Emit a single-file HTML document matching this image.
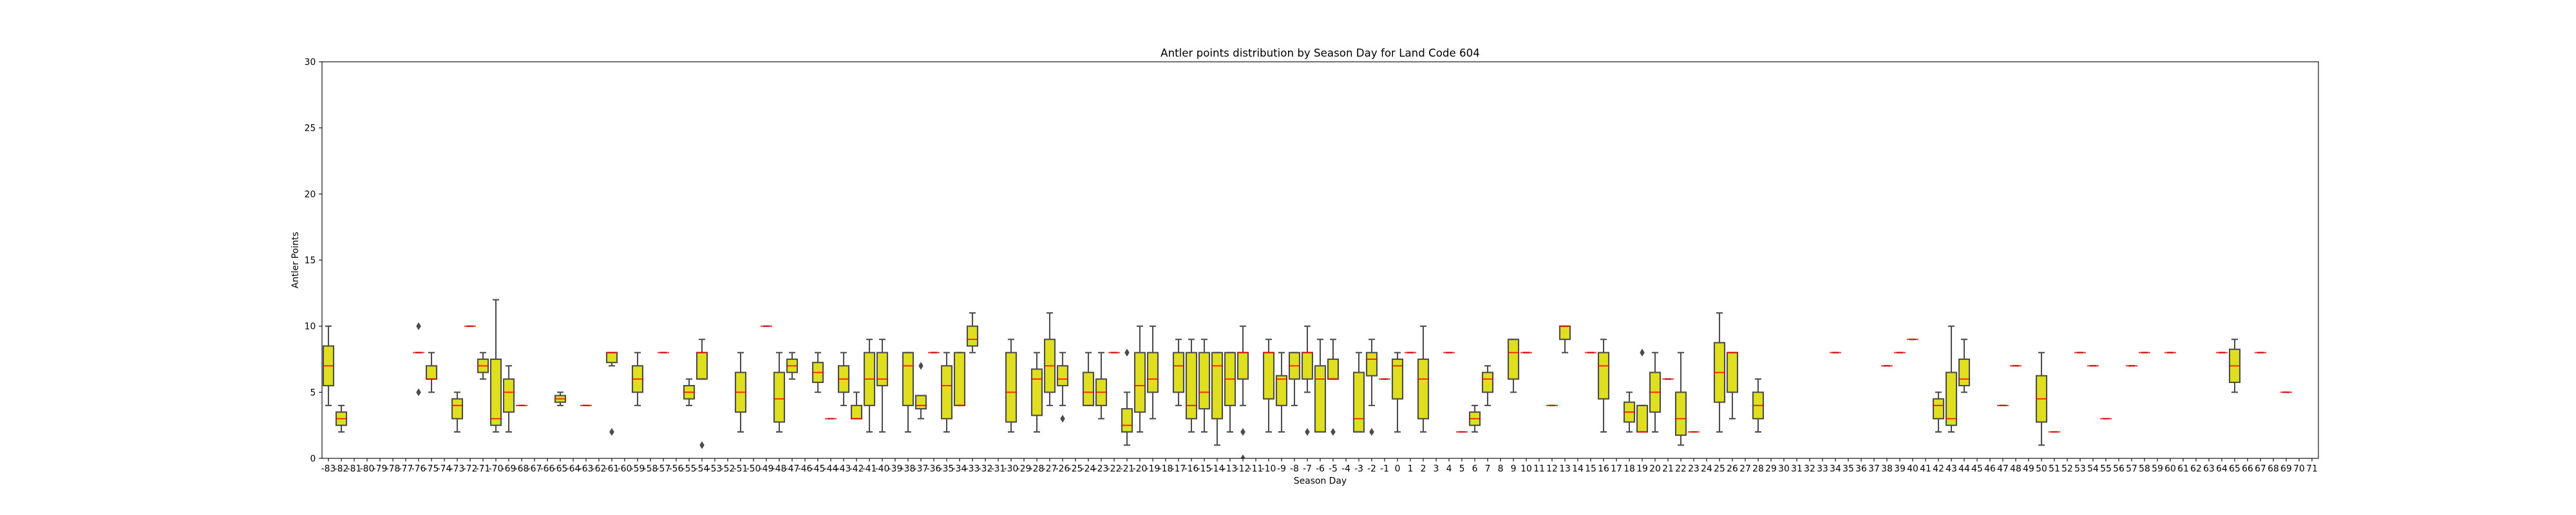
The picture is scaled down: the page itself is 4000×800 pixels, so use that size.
<!DOCTYPE html>
<html>
<head>
<meta charset="utf-8">
<title>Antler points distribution by Season Day for Land Code 604</title>
<style>
html,body{margin:0;padding:0;background:#fff;width:4000px;height:800px;overflow:hidden}
svg{display:block}
text{font-family:"DejaVu Sans","Liberation Sans",sans-serif;fill:#000}
</style>
</head>
<body>
<svg id="chart" xmlns="http://www.w3.org/2000/svg" width="4000" height="800" viewBox="0 0 4000 800">
  <defs><clipPath id="plot-clip"><rect x="500" y="96" width="3100" height="616"/></clipPath></defs>
  <rect x="0" y="0" width="4000" height="800" fill="#fff"/>
  <g id="marks" clip-path="url(#plot-clip)"></g>
  <g id="xticks"></g>
  <g id="yticks"></g>
  <rect x="500" y="96" width="3100" height="616" fill="none" stroke="#000" stroke-width="1.1"/>
  <text x="2050" y="88" font-size="16.67" text-anchor="middle">Antler points distribution by Season Day for Land Code 604</text>
  <text x="2050" y="751.5" font-size="13.89" text-anchor="middle">Season Day</text>
  <text transform="translate(463,404) rotate(-90)" font-size="13.89" text-anchor="middle">Antler Points</text>
</svg>
<script>
const categories = [-83,-82,-81,-80,-79,-78,-77,-76,-75,-74,-73,-72,-71,-70,-69,-68,-67,-66,-65,-64,-63,-62,-61,-60,-59,-58,-57,-56,-55,-54,-53,-52,-51,-50,-49,-48,-47,-46,-45,-44,-43,-42,-41,-40,-39,-38,-37,-36,-35,-34,-33,-32,-31,-30,-29,-28,-27,-26,-25,-24,-23,-22,-21,-20,-19,-18,-17,-16,-15,-14,-13,-12,-11,-10,-9,-8,-7,-6,-5,-4,-3,-2,-1,0,1,2,3,4,5,6,7,8,9,10,11,12,13,14,15,16,17,18,19,20,21,22,23,24,25,26,27,28,29,30,31,32,33,34,35,36,37,38,39,40,41,42,43,44,45,46,47,48,49,50,51,52,53,54,55,56,57,58,59,60,61,62,63,64,65,66,67,68,69,70,71];
const yTickLabels = [0,5,10,15,20,25,30];

const boxDays = [-83,-82,-76,-75,-73,-72,-71,-70,-69,-68,-65,-63,-61,-59,-57,-55,-54,-51,-49,-48,-47,-45,-44,-43,-42,-41,-40,-38,-37,-36,-35,-34,-33,-30,-28,-27,-26,-24,-23,-22,-21,-20,-19,-17,-16,-15,-14,-13,-12,-10,-9,-8,-7,-6,-5,-3,-2,-1,0,1,2,4,5,6,7,9,10,12,13,15,16,18,19,20,21,22,23,25,26,28,34,38,39,40,42,43,44,47,48,50,51,53,54,55,57,58,60,64,65,67,69];
const whiskerLow = [4,2,8,5,2,10,6,2,2,4,4,4,7,4,8,4,6,2,10,2,6,5,3,4,3,2,2,2,3,8,2,4,8,2,2,4,4,4,3,8,1,2,3,4,2,2,1,2,4,2,2,4,5,2,6,2,4,6,2,8,2,8,2,2,4,5,8,4,8,8,2,2,2,2,6,1,2,2,3,2,8,7,8,9,2,2,5,4,7,1,2,8,7,3,7,8,8,8,5,8,5];
const quartile1 = [5.5,2.5,8,6,3,10,6.5,2.5,3.5,4,4.25,4,7.25,5,8,4.5,6,3.5,10,2.75,6.5,5.75,3,5,3,4,5.5,4,3.75,8,3,4,8.5,2.75,3.25,5,5.5,4,4,8,2,3.5,5,5,3,3.75,3,4,6,4.5,4,6,6,2,6,2,6.25,6,4.5,8,3,8,2,2.5,5,6,8,4,9,8,4.5,2.75,2,3.5,6,1.75,2,4.25,5,3,8,7,8,9,3,2.5,5.5,4,7,2.75,2,8,7,3,7,8,8,8,5.75,8,5];
const medians = [7,3,8,6,4,10,7,3,5,4,4.5,4,8,6,8,5,8,5,10,4.5,7,6.5,3,6,3,6,6,7,4,8,5.5,4,9,5,6,7,6,5,5,8,2.5,5.5,6,7,4,5,7,6,8,8,6,7,8,6,6,3,7.5,6,7,8,6,8,2,3,6,8,8,4,10,8,7,3.5,2,5,6,3,2,6.5,8,4,8,7,8,9,4,3,6,4,7,4.5,2,8,7,3,7,8,8,8,7,8,5];
const quartile3 = [8.5,3.5,8,7,4.5,10,7.5,7.5,6,4,4.75,4,8,7,8,5.5,8,6.5,10,6.5,7.5,7.25,3,7,4,8,8,8,4.75,8,7,8,10,8,6.75,9,7,6.5,6,8,3.75,8,8,8,8,8,8,8,8,8,6.25,8,8,7,7.5,6.5,8,6,7.5,8,7.5,8,2,3.5,6.5,9,8,4,10,8,8,4.25,4,6.5,6,5,2,8.75,8,5,8,7,8,9,4.5,6.5,7.5,4,7,6.25,2,8,7,3,7,8,8,8,8.25,8,5];
const whiskerHigh = [10,4,8,8,5,10,8,12,7,4,5,4,8,8,8,6,9,8,10,8,8,8,3,8,5,9,9,8,4.75,8,8,8,11,9,8,11,8,8,8,8,5,10,10,9,9,9,8,8,10,9,8,8,10,9,9,8,9,6,8,8,10,8,2,4,7,9,8,4,10,8,9,5,4,8,6,8,2,11,8,6,8,7,8,9,5,10,9,4,7,8,2,8,7,3,7,8,8,8,9,8,5];
const flierDays = [-76,-76,-61,-54,-37,-26,-21,-12,-12,-7,-5,-2,19];
const flierValues = [10,5,2,1,7,3,8,2,0,2,2,2,8];

const NS = 'http://www.w3.org/2000/svg';
const plotLeft = 500, plotWidth = 3100, plotTop = 96, plotBottom = 712;
const yMin = 0, yMax = 30;
const boxHalf = 8, capHalf = 4, lineW = 2.08;
const edgeColor = '#4c4c4c', fillColor = '#dfdf20';

function xScale(day) {
  const i = categories.indexOf(day);
  return plotLeft + (i + 0.5) * plotWidth / categories.length;
}
function yScale(v) {
  return plotBottom - (v - yMin) / (yMax - yMin) * (plotBottom - plotTop);
}
function make(tag, attrs, parent) {
  const el = document.createElementNS(NS, tag);
  for (const k in attrs) el.setAttribute(k, attrs[k]);
  parent.appendChild(el);
  return el;
}

const marks = document.getElementById('marks');
const xticks = document.getElementById('xticks');
const yticks = document.getElementById('yticks');

categories.forEach(function (day) {
  const x = xScale(day);
  const tick = make('line', {x1: x, x2: x, y1: plotBottom, y2: plotBottom + 4.86, stroke: '#000', 'stroke-width': 1.1}, xticks);
  
  
  const label = make('text', {x: x, y: 732.5, 'font-size': 13.89, 'text-anchor': 'middle'}, xticks);
  label.textContent = String(day);
  
  
});

yTickLabels.forEach(function (v) {
  const y = yScale(v);
  const tick = make('line', {x1: plotLeft - 4.86, x2: plotLeft, y1: y, y2: y, stroke: '#000', 'stroke-width': 1.1}, yticks);
  
  
  const label = make('text', {x: plotLeft - 9.7, y: y + 5, 'font-size': 13.89, 'text-anchor': 'end'}, yticks);
  label.textContent = String(v);
  
  
});

boxDays.forEach(function (day, i) {
  const x = xScale(day);
  const g = make('g', {}, marks);
  
  
  const yLo = yScale(whiskerLow[i]), yQ1 = yScale(quartile1[i]), yMed = yScale(medians[i]);
  const yQ3 = yScale(quartile3[i]), yHi = yScale(whiskerHigh[i]);
  const lineAttrs = {stroke: edgeColor, 'stroke-width': lineW, fill: 'none'};

  const wl = make('line', Object.assign({x1: x, x2: x, y1: yQ1, y2: yLo}, lineAttrs), g);
  
  
  const wh = make('line', Object.assign({x1: x, x2: x, y1: yQ3, y2: yHi}, lineAttrs), g);
  
  

  const box = make('rect', {x: x - boxHalf, y: yQ3, width: boxHalf * 2, height: Math.max(yQ1 - yQ3, 0), fill: fillColor, stroke: edgeColor, 'stroke-width': lineW}, g);
  
  

  const cl = make('line', Object.assign({x1: x - capHalf, x2: x + capHalf, y1: yLo, y2: yLo, 'stroke-linecap': 'square'}, lineAttrs), g);
  
  
  const ch = make('line', Object.assign({x1: x - capHalf, x2: x + capHalf, y1: yHi, y2: yHi, 'stroke-linecap': 'square'}, lineAttrs), g);
  
  

  const m = make('line', {x1: x - boxHalf, x2: x + boxHalf, y1: yMed, y2: yMed, stroke: '#ff0000', 'stroke-opacity': 0.85, 'stroke-width': 1.9, 'stroke-linecap': 'square'}, g);
  
  
});

flierDays.forEach(function (day, i) {
  const x = xScale(day), y = yScale(flierValues[i]);
  const pts = [[x, y - 5.2], [x + 3.2, y], [x, y + 5.2], [x - 3.2, y]].map(function (p) { return p.join(','); }).join(' ');
  const f = make('polygon', {points: pts, fill: edgeColor, stroke: edgeColor, 'stroke-width': 1, 'stroke-linejoin': 'round'}, marks);
  
  
});
</script>
</body>
</html>
